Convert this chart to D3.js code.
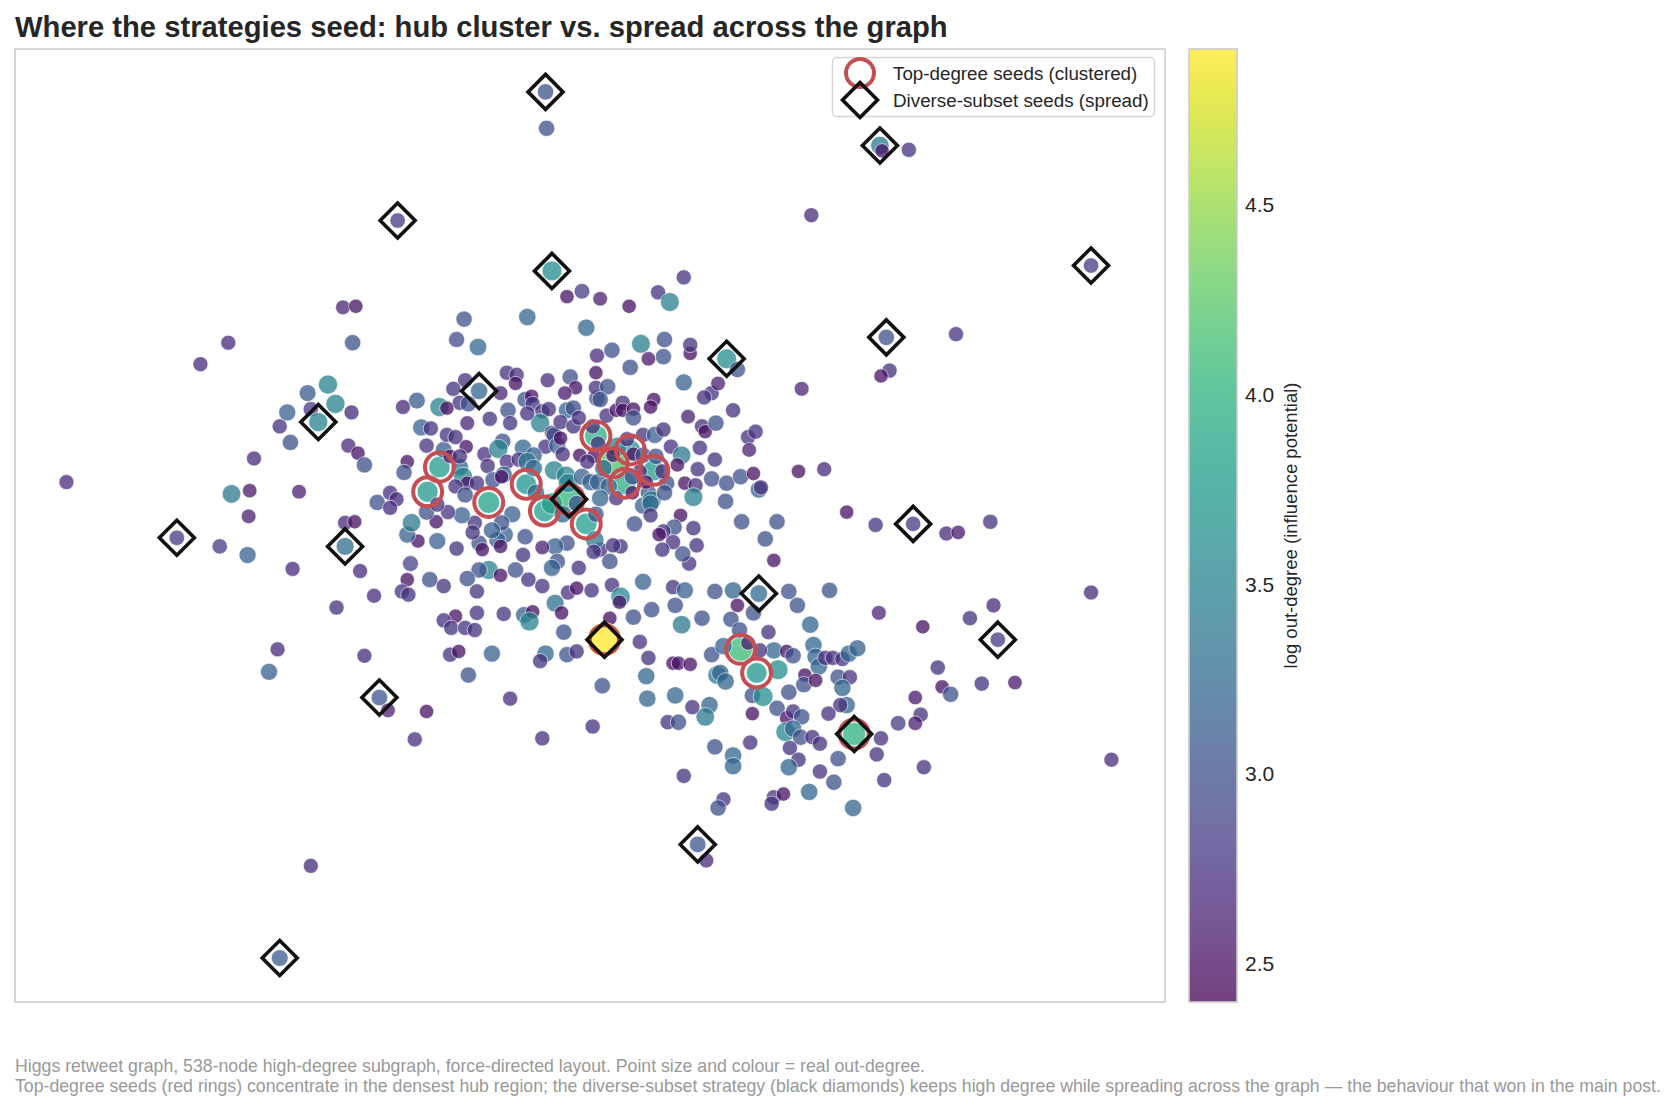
<!DOCTYPE html>
<html><head><meta charset="utf-8">
<script src="https://cdn.jsdelivr.net/npm/d3@7"></script>
<style>
body{margin:0;background:#fff;}
svg{display:block;font-family:"Liberation Sans",Arial,Helvetica,sans-serif;}
</style>
</head><body>
<svg id="chart" width="1680" height="1110"></svg>
<script>
// ---------- DATA (force-directed layout units, log out-degree) ----------
const titleText = "Where the strategies seed: hub cluster vs. spread across the graph";
const footerLines = [
  "Higgs retweet graph, 538-node high-degree subgraph, force-directed layout. Point size and colour = real out-degree.",
  "Top-degree seeds (red rings) concentrate in the densest hub region; the diverse-subset strategy (black diamonds) keeps high degree while spreading across the graph \u2014 the behaviour that won in the main post."
];
const legendLabels = ["Top-degree seeds (clustered)", "Diverse-subset seeds (spread)"];
const colorbarLabel = "log out-degree (influence potential)";
const colorbarTicks = [2.5, 3.0, 3.5, 4.0, 4.5];
const layoutXDomain = [14, 1087];
const layoutYDomain = [46, 935];
const logDegDomain = [2.40, 4.91];

// seed nodes (drawn first, so neighbours may overlap them) [layoutX, layoutY, logOutDegree]
const seedNodes = [
[556,407,3.95],[588,420,3.7],[572,432,4.2],[610,439,3.75],[583,451,3.95],[410,436,3.8],[399,459,3.75],[456,469,3.85],[491,452,3.7],[508,477,3.8],[547,489,3.8],[691,606,4.1],[706,628,3.7],[797,685,4.0],[531,466,4.05]
];
// the single highest-degree node
const maxNode = [[564,597,4.91]];

// other nodes [layoutX, layoutY, logOutDegree]
const nodes = [
[62,450,2.7],[187,340,2.7],[213,320,2.7],[216,461,3.4],[233,458,2.55],[232,482,2.6],[231,518,3.15],[205,510,2.8],[237,428,2.7],[261,398,2.75],[268,385,3.15],[271,413,3.0],[287,367,3.1],[306,359,3.5],[313,377,3.5],[290,382,2.8],[297,394,3.5],[320,287,2.65],[332,286,2.5],[329,320,3.0],[328,385,2.7],[325,416,2.7],[334,423,2.5],[340,434,3.0],[279,459,2.6],[273,531,2.7],[314,567,2.75],[322,488,2.7],[331,487,2.5],[322,510,3.3],[336,533,2.7],[349,556,2.7],[259,606,2.7],[251,627,3.15],[340,612,2.7],[290,808,2.7],[261,894,3.1],[165,502,2.8],[354,651,3.05],[362,663,2.6],[398,664,2.5],[387,690,2.75],[371,206,2.8],[509,86,3.0],[510,120,3.0],[757,201,2.7],[821,136,3.4],[823,141,2.5],[848,140,2.75],[1018,248,2.8],[892,312,2.75],[827,315,3.0],[830,346,2.75],[822,351,2.5],[748,363,2.65],[769,438,2.7],[745,440,2.5],[790,478,2.5],[817,490,2.75],[852,489,2.8],[883,498,2.7],[894,497,2.55],[924,487,2.75],[1018,553,2.7],[927,565,2.7],[905,577,2.75],[861,585,2.5],[820,572,2.65],[931,597,2.8],[947,637,2.55],[916,638,2.75],[875,623,2.75],[879,641,2.5],[887,648,3.0],[854,651,2.55],[859,667,2.75],[854,675,2.6],[838,675,2.85],[822,689,2.75],[818,704,2.75],[825,728,2.75],[862,716,2.75],[1037,709,2.7],[659,803,2.7],[651,788,3.05],
[515,253,3.6],[543,272,2.85],[529,277,2.5],[560,279,2.6],[587,286,2.5],[492,296,3.2],[433,298,3.0],[426,317,2.95],[446,324,3.25],[547,306,3.2],[614,273,2.75],[625,282,3.45],[638,259,2.75],[571,327,3.0],[557,332,2.7],[598,321,3.45],[620,317,3.0],[619,333,3.0],[605,335,2.55],[588,343,3.0],[644,330,2.5],[644,322,2.75],[638,357,3.15],[664,367,2.75],[670,358,2.6],[678,335,3.6],[688,345,3.0],[556,348,2.5],[511,355,2.7],[532,352,3.0],[537,362,2.5],[527,367,2.55],[473,348,2.75],[482,350,2.75],[481,358,2.5],[467,367,2.65],[447,365,3.2],[434,355,2.75],[423,363,2.75],[429,376,2.75],[437,377,3.0],[410,380,3.5],[417,381,2.5],[389,374,3.1],[376,380,2.7],[393,399,3.15],[402,400,2.75],[380,431,2.5],[377,441,3.0],[398,416,2.75],[414,420,3.1],[417,406,2.75],[425,408,2.75],[436,395,2.65],[435,417,2.5],[452,424,2.75],[455,435,2.75],[457,391,2.75],[474,383,3.0],[476,395,2.75],[490,373,3.0],[496,370,2.5],[497,377,2.75],[506,384,2.75],[512,382,2.75],[504,395,3.5],[492,386,2.75],[509,417,2.75],[515,404,2.75],[517,406,3.0],[529,383,3.15],[523,394,2.75],[535,398,2.75],[520,416,3.15],[525,424,2.75],[541,425,2.5],[535,381,3.0],[540,390,2.75],[553,398,2.75],[557,372,3.0],[556,362,2.75],[567,361,3.0],[566,388,2.75],[575,383,2.5],[581,376,2.75],[581,383,2.5],[591,382,2.5],[591,390,3.0],[610,373,2.5],[607,380,2.5],[560,373,3.0],[600,406,2.75],[611,406,3.15],[619,401,2.75],[626,417,2.75],[636,425,3.4],[642,389,2.6],[655,398,2.75],[658,403,2.5],[657,371,2.75],[668,395,3.0],[684,383,2.75],[698,408,2.75],[705,403,2.75],[699,420,2.6],[653,418,2.75],[667,429,2.75],[651,438,2.75],[632,434,2.5],[622,451,3.0],[639,451,2.5],[649,453,2.75],[664,447,3.0],[678,451,3.0],[691,445,3.0],[703,442,2.5],[708,457,3.15],[710,455,2.75],[647,464,3.45],[677,468,3.0],[692,487,3.0],[725,487,3.0],[714,503,3.0],[722,523,2.5],
[469,412,3.0],[465,419,3.5],[488,418,3.2],[498,425,3.15],[473,431,2.75],[484,429,2.75],[492,431,3.4],[498,437,3.2],[470,443,3.15],[460,448,3.0],[468,445,2.5],[429,436,3.2],[432,445,3.5],[420,426,2.5],[429,426,2.75],[436,451,2.5],[425,454,2.75],[364,460,2.75],[370,466,2.7],[352,469,3.0],[364,474,2.7],[517,439,3.5],[528,444,3.5],[530,451,3.5],[543,445,3.15],[551,450,3.15],[558,450,3.15],[568,454,3.2],[554,426,2.5],[548,431,2.75],[523,409,2.5],[558,414,2.75],[576,417,3.5],[572,425,2.5],[585,410,2.75],[591,424,2.5],[600,425,3.0],[597,440,2.6],[612,426,3.0],[618,440,2.7],[605,460,3.0],[600,472,3.15],[608,467,3.5],[607,470,3.2],[592,489,3.0],[607,481,2.75],[635,481,2.5],[629,492,3.0],[619,496,2.75],[615,499,2.5],[647,493,2.75],[650,509,2.75],[643,526,2.75],[637,517,3.0],[628,506,2.75],[618,513,2.75],[579,510,2.75],[569,524,3.0],[560,513,2.75],[572,509,2.75],[555,504,3.4],[554,515,2.75],[540,530,2.75],[529,507,3.0],[518,510,3.15],[520,524,3.0],[515,530,3.15],[506,511,2.6],[488,518,2.75],[490,501,3.0],[471,499,3.15],[464,504,3.15],[467,510,2.5],[481,532,3.0],[456,532,3.5],[447,532,3.0],[467,537,2.5],[493,541,2.75],[506,547,2.75],[436,540,3.0],[445,552,2.75],[447,507,3.0],[450,513,2.5],[443,488,2.75],[441,497,2.75],[431,481,3.15],[418,478,2.75],[407,487,2.5],[426,512,2.75],[408,505,3.15],[390,505,2.5],[380,499,3.15],[384,488,3.4],[383,526,2.9],[401,541,3.0],[414,547,2.75],[380,541,2.5],[375,552,2.75],[381,555,2.75],[398,478,3.0],[408,471,2.75],[445,451,2.75],[434,462,3.0],[478,480,3.15],[468,488,3.0],[459,495,3.15],[515,470,3.8],[500,460,3.2],[538,470,3.0],[525,480,3.2],[556,480,3.0],[560,465,3.2],[563,437,3.2],[590,445,3.0],[603,450,2.5],[620,460,3.0],[575,465,2.75],[590,460,2.5],
[518,563,3.3],[524,572,2.5],[530,553,2.75],[538,549,2.5],[552,551,2.75],[571,546,2.75],[579,557,3.55],[578,562,2.5],[600,543,3.15],[628,548,2.75],[639,551,3.15],[608,569,3.0],[591,576,3.0],[630,565,3.0],[636,583,3.4],[655,577,3.0],[569,577,2.5],[489,574,3.15],[497,571,2.5],[494,580,3.5],[526,590,3.0],[470,573,2.75],[445,572,2.75],[425,575,2.5],[414,579,2.75],[421,586,2.75],[434,586,2.75],[443,588,2.75],[420,611,2.75],[428,608,2.5],[459,610,3.15],[437,630,3.0],[476,652,2.7],[509,610,3.2],[504,617,2.75],[529,611,3.0],[538,608,2.75],[562,640,3.0],[553,678,2.75],[506,689,2.75],[597,599,2.75],[605,614,2.75],[603,631,3.2],[604,652,3.2],[628,619,2.5],[633,619,2.5],[644,620,2.5],[630,649,3.2],[664,611,3.0],[675,603,3.2],[669,630,3.4],[672,628,3.2],[677,636,3.2],[662,658,3.2],[658,669,3.4],[623,674,2.75],[633,674,3.0],[646,660,2.75],[638,724,2.75],[667,697,3.0],[684,705,3.2],[684,715,3.2],[700,693,2.75],[702,666,2.5],[702,649,3.0],[712,650,3.6],[725,661,3.0],[726,625,3.6],[722,607,3.2],[709,607,2.75],[734,608,2.5],[740,612,3.0],[759,602,3.2],[761,613,3.2],[764,622,3.2],[770,614,2.75],[777,614,2.75],[786,615,2.75],[792,610,3.2],[800,605,3.15],[751,630,2.5],[750,639,3.0],[761,635,2.5],[782,632,3.0],[793,632,2.75],[786,642,3.2],[790,658,3.2],[784,658,2.75],[773,666,2.75],[736,646,3.0],[734,670,2.5],[740,664,2.75],[748,669,3.0],[733,683,3.55],[740,680,3.2],[747,688,3.0],[758,688,2.75],[765,694,2.75],[737,698,2.75],[745,709,2.75],[736,716,3.2],[782,708,3.0],[778,730,3.0],[765,720,2.75],[755,739,3.2],[796,754,3.2],[675,746,2.75],[670,754,3.0],[722,744,2.75],[731,741,2.5],[720,750,2.75],[667,552,3.0],[684,551,3.2],[688,565,2.5],[682,578,3.0],[690,588,3.0],[703,572,3.0],[717,590,2.75],[736,552,3.0],[744,565,3.0],[756,583,3.2],[774,551,3.0],[698,600,2.6],[708,554,3.25]
];

// Seed positions (layout units)
const topDegreeSeeds = [
[556,407],[588,420],[572,432],[610,439],[583,451],[410,436],[399,459],[456,469],[491,452],[508,477],[547,489],[691,606],[706,628],[564,597],[797,685],[531,466]
];
const diverseSeeds = [
[509,86],[821,136],[371,206],[1018,248],[515,253],[827,315],[678,335],[447,365],[297,394],[531,466],[852,489],[165,502],[322,510],[708,554],[931,597],[564,597],[354,651],[797,685],[651,788],[261,894]
];

// ---------- DRAWING ----------
const svg = d3.select("#chart");
const plot = {left: 15, top: 49, right: 1165, bottom: 1002};
const cb = {left: 1189, right: 1237, top: 49, bottom: 1002};
const ALPHA = 0.75;

const x = d3.scaleLinear().domain(layoutXDomain).range([plot.left, plot.right]);
const y = d3.scaleLinear().domain(layoutYDomain).range([plot.top, plot.bottom]);
const color = d3.scaleSequential(d3.interpolateViridis).domain(logDegDomain);
const radius = v => Math.sqrt(27.5 + 1.95 * Math.exp(v));

// title
svg.append("text").attr("x", 15).attr("y", 37)
  .attr("font-size", 29.2).attr("font-weight", "bold").attr("fill", "#262626")
  .text(titleText);

svg.append("rect").attr("x", plot.left).attr("y", plot.top)
  .attr("width", plot.right - plot.left).attr("height", plot.bottom - plot.top)
  .attr("fill", "#fff");

const defs = svg.append("defs");
defs.append("clipPath").attr("id", "plotclip")
  .append("rect").attr("x", plot.left).attr("y", plot.top)
  .attr("width", plot.right - plot.left).attr("height", plot.bottom - plot.top);

const gPts = svg.append("g").attr("clip-path", "url(#plotclip)");
const drawOrder = seedNodes.concat(nodes, maxNode);
gPts.selectAll("circle.node").data(drawOrder).join("circle")
  .attr("class", "node")
  .attr("cx", d => x(d[0])).attr("cy", d => y(d[1]))
  .attr("r", d => radius(d[2]))
  .attr("fill", d => color(d[2])).attr("fill-opacity", ALPHA)
  .attr("stroke", "#fff").attr("stroke-width", 0.8).attr("stroke-opacity", ALPHA);

// top-degree rings
gPts.selectAll("circle.ring").data(topDegreeSeeds).join("circle")
  .attr("class", "ring")
  .attr("cx", d => x(d[0])).attr("cy", d => y(d[1]))
  .attr("r", 14.5).attr("fill", "none")
  .attr("stroke", "#c44e52").attr("stroke-width", 4);

// diverse diamonds
const diamondPath = (cx, cy, h) => `M${cx},${cy - h}L${cx + h},${cy}L${cx},${cy + h}L${cx - h},${cy}Z`;
gPts.selectAll("path.diamond").data(diverseSeeds).join("path")
  .attr("class", "diamond")
  .attr("d", d => diamondPath(x(d[0]), y(d[1]), 17.5))
  .attr("fill", "none").attr("stroke", "#111").attr("stroke-width", 3.6);

// plot frame
svg.append("rect").attr("x", plot.left).attr("y", plot.top)
  .attr("width", plot.right - plot.left).attr("height", plot.bottom - plot.top)
  .attr("fill", "none").attr("stroke", "#cccccc").attr("stroke-width", 1.6);

// legend
const lg = svg.append("g");
lg.append("rect").attr("x", 832.5).attr("y", 57.5).attr("width", 322).attr("height", 59)
  .attr("rx", 4).attr("fill", "#fff").attr("fill-opacity", 0.85)
  .attr("stroke", "#d5d5d5").attr("stroke-width", 1.4);
lg.append("circle").attr("cx", 860).attr("cy", 73).attr("r", 14)
  .attr("fill", "none").attr("stroke", "#c44e52").attr("stroke-width", 4);
lg.append("path").attr("d", diamondPath(860, 100, 17.5))
  .attr("fill", "none").attr("stroke", "#111").attr("stroke-width", 3.6);
lg.selectAll("text").data(legendLabels).join("text")
  .attr("x", 893).attr("y", (d, i) => 73 + i * 27)
  .attr("dy", "0.35em").attr("font-size", 18.8).attr("fill", "#262626")
  .text(d => d);

// colorbar
const cbScale = d3.scaleLinear().domain(logDegDomain).range([cb.bottom, cb.top]);
const grad = defs.append("linearGradient").attr("id", "viridisGrad")
  .attr("x1", 0).attr("y1", 1).attr("x2", 0).attr("y2", 0);
d3.range(0, 1.0001, 0.05).forEach(t => {
  grad.append("stop").attr("offset", t)
    .attr("stop-color", color(logDegDomain[0] + t * (logDegDomain[1] - logDegDomain[0])));
});
svg.append("rect").attr("x", cb.left).attr("y", cb.top)
  .attr("width", cb.right - cb.left).attr("height", cb.bottom - cb.top)
  .attr("fill", "url(#viridisGrad)").attr("fill-opacity", ALPHA);
svg.append("rect").attr("x", cb.left).attr("y", cb.top)
  .attr("width", cb.right - cb.left).attr("height", cb.bottom - cb.top)
  .attr("fill", "none").attr("stroke", "#cccccc").attr("stroke-width", 1.6);

const cbAxis = svg.append("g").attr("transform", `translate(${cb.right},0)`)
  .call(d3.axisRight(cbScale).tickValues(colorbarTicks).tickFormat(d3.format(".1f"))
    .tickSize(0).tickPadding(8));
cbAxis.select(".domain").remove();
cbAxis.selectAll("text").attr("font-size", 21).attr("fill", "#262626")
  .attr("font-family", "'Liberation Sans', Arial, sans-serif");

svg.append("text")
  .attr("transform", `translate(1291,${(cb.top + cb.bottom) / 2}) rotate(-90)`)
  .attr("text-anchor", "middle").attr("dy", "0.35em")
  .attr("font-size", 18.5).attr("fill", "#262626")
  .text(colorbarLabel);

// footer
svg.selectAll("text.footer").data(footerLines).join("text")
  .attr("class", "footer")
  .attr("x", 15).attr("y", (d, i) => 1072 + i * 19.5)
  .attr("font-size", 17.7).attr("fill", "#999999")
  .text(d => d);
</script>
</body></html>
